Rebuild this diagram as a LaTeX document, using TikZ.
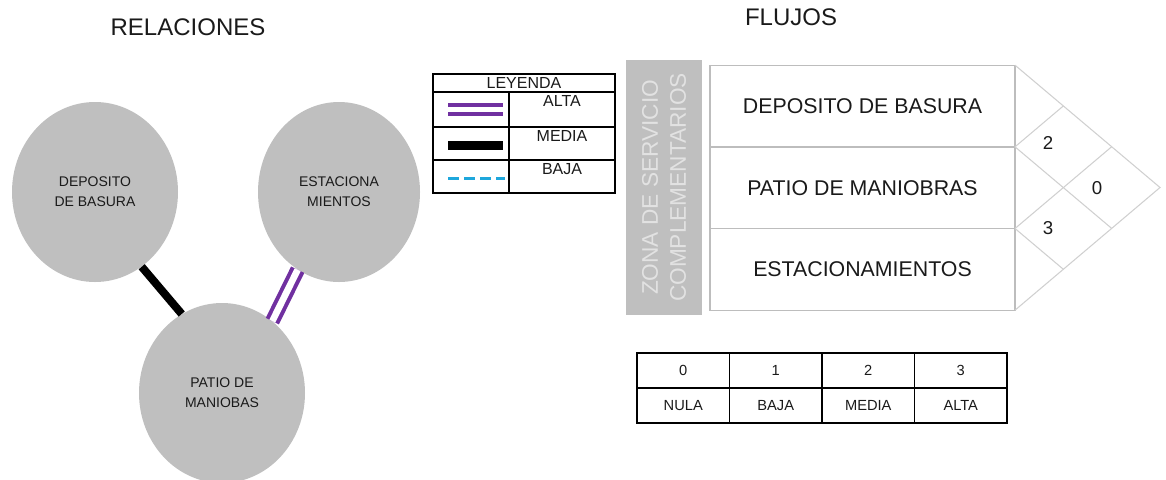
\documentclass[tikz,border=0pt]{standalone}
\usepackage{fontspec}
\setmainfont{Liberation Sans}
\usepackage{xcolor}
\usepackage{tikz}
\usetikzlibrary{shapes.geometric, positioning, calc}
\definecolor{circgray}{HTML}{BFBFBF}
\definecolor{zonatext}{HTML}{E2E2E2}
\definecolor{altapurple}{HTML}{7030A0}
\definecolor{bajablue}{HTML}{1EA7DC}
\definecolor{gridgray}{HTML}{BDBDBD}
\definecolor{rombogray}{HTML}{D0D0D0}
\definecolor{textdark}{HTML}{1A1A1A}

\begin{document}
\begin{tikzpicture}[
    x=0.75pt, y=-0.75pt,
    titulo/.style={font=\fontsize{18}{20}\selectfont, text=textdark},
    zona/.style={ellipse, fill=circgray, minimum width=124.5pt, minimum height=135pt, inner sep=0pt, align=center, text=textdark, font=\fontsize{10.5}{15}\selectfont},
    media/.style={black, line width=6pt},
    alta/.style={draw=altapurple, double=white, line width=3pt, double distance=5pt},
    baja/.style={bajablue, line width=2.25pt, dash pattern=on 8pt off 4pt},
    leycell/.style={rectangle, draw=black, line width=0.9pt, outer sep=0pt, inner sep=0pt},
    leytxt/.style={inner sep=0pt, text=textdark, font=\fontsize{12}{14}\selectfont},
    fila/.style={rectangle, draw=gridgray, line width=1pt, minimum width=228.75pt, minimum height=61.25pt, outer sep=0pt, inner sep=0pt, text=textdark, font=\fontsize{16}{19}\selectfont},
    zonabox/.style={rectangle, rotate=90, fill=circgray, minimum width=191.25pt, minimum height=57pt, inner sep=0pt, align=center, text=zonatext, font=\fontsize{17}{21}\selectfont},
    rejilla/.style={draw=rombogray, line width=0.8pt},
    valor/.style={inner sep=0pt, text=textdark, font=\fontsize{14}{16}\selectfont},
    celda/.style={rectangle, draw=black, line width=0.9pt, minimum width=69.375pt, minimum height=26.25pt, outer sep=0pt, inner sep=0pt, text=textdark, font=\fontsize{11}{13}\selectfont},
]
    \clip (0,0) rectangle (1166,479);

    % titulos
    \node[titulo] (trel) at (188,27) {RELACIONES};
    \node[titulo] (tflu) at (791,17) {FLUJOS};

    % diagrama de relaciones
    \node[zona] (dep) at (95,192) {DEPOSITO\\DE BASURA};
    \node[zona, minimum width=121.5pt] (est) at (339,192) {ESTACIONA\\MIENTOS};
    \node[zona] (pat) at (222,393) {PATIO DE\\MANIOBAS};
    \draw[media] (dep.-58) -- (pat.117);
    \draw[alta] (est.-118) -- (pat.55);

    % leyenda
    \node[leycell, minimum width=136.5pt, minimum height=13.5pt, leytxt] (ley) at (524,83) {LEYENDA};
    \node[leycell, minimum width=57pt, minimum height=26.25pt, below=0pt of ley.south west, anchor=north west] (sw1) {};
    \node[leycell, minimum width=79.5pt, minimum height=26.25pt, right=0pt of sw1] (c1) {};
    \node[leycell, minimum width=57pt, minimum height=24.75pt, below=0pt of sw1] (sw2) {};
    \node[leycell, minimum width=79.5pt, minimum height=24.75pt, right=0pt of sw2] (c2) {};
    \node[leycell, minimum width=57pt, minimum height=24.75pt, below=0pt of sw2] (sw3) {};
    \node[leycell, minimum width=79.5pt, minimum height=24.75pt, right=0pt of sw3] (c3) {};
    \node[leytxt, below=2.5pt of c1.north] (talta) {ALTA};
    \node[leytxt, below=2.5pt of c2.north] (tmedia) {MEDIA};
    \node[leytxt, below=2.5pt of c3.north] (tbaja) {BAJA};
    \draw[alta, line width=2.6pt, double distance=4.2pt] ($(sw1.west)+(15,0)$) -- ($(sw1.east)+(-6,0)$);
    \draw[media, line width=6.75pt] ($(sw2.west)+(15,1.5)$) -- ($(sw2.east)+(-6,1.5)$);
    \draw[baja] ($(sw3.west)+(15,1.5)$) -- ($(sw3.east)+(-4,1.5)$);

    % flujos
    \node[zonabox] (serv) at (664,187.5) {ZONA DE SERVICIO\\COMPLEMENTARIOS};
    \node[fila] (f1) at (862.5,106) {DEPOSITO DE BASURA};
    \node[fila, below=0pt of f1] (f2) {PATIO DE MANIOBRAS};
    \node[fila, below=0pt of f2] (f3) {ESTACIONAMIENTOS};
    \coordinate (vert) at (1160,187.5);
    \draw[rejilla] (f1.north east) -- (vert) -- (f3.south east);
    \draw[rejilla] (f1.south east) -- ($(f1.north east)!1/3!(vert)$);
    \draw[rejilla] (f1.south east) -- ($(f3.south east)!2/3!(vert)$);
    \draw[rejilla] (f2.south east) -- ($(f1.north east)!2/3!(vert)$);
    \draw[rejilla] (f2.south east) -- ($(f3.south east)!1/3!(vert)$);
    \node[valor] (v12) at ($(f1.south east)+(33,-4)$) {2};
    \node[valor] (v13) at ($(f2.east)+(82,0)$) {0};
    \node[valor] (v23) at ($(f2.south east)+(33,0)$) {3};

    % escala de valores
    \node[celda] (n0) at (683.25,370.5) {0};
    \node[celda, right=0pt of n0] (n1) {1};
    \node[celda, right=0pt of n1] (n2) {2};
    \node[celda, right=0pt of n2] (n3) {3};
    \node[celda, below=0pt of n0] (m0) {NULA};
    \node[celda, below=0pt of n1] (m1) {BAJA};
    \node[celda, below=0pt of n2] (m2) {MEDIA};
    \node[celda, below=0pt of n3] (m3) {ALTA};
\end{tikzpicture}
\end{document}
